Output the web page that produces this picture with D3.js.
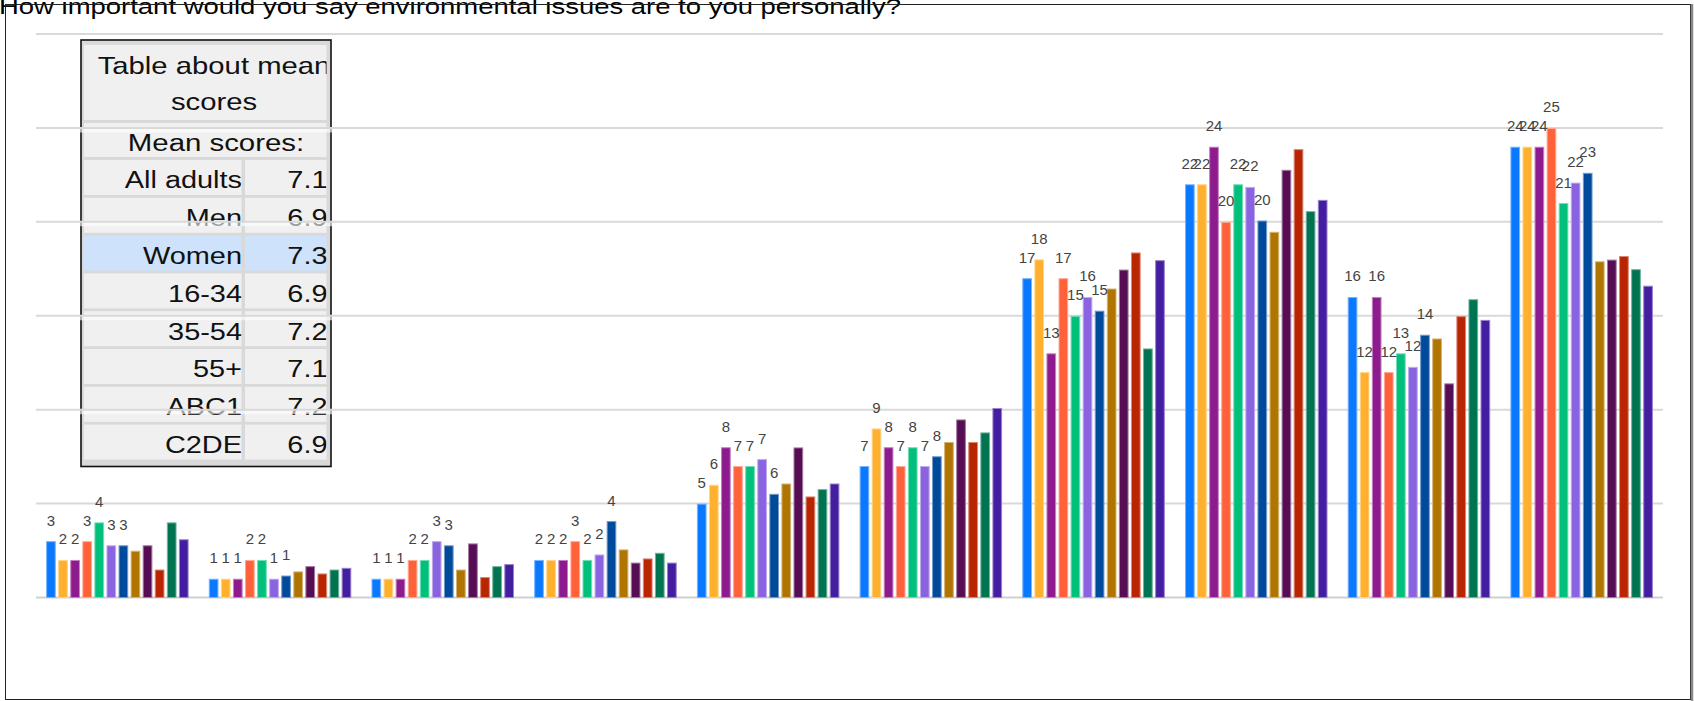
<!DOCTYPE html>
<html>
<head>
<meta charset="utf-8">
<script src="https://cdn.jsdelivr.net/npm/d3@7"></script>
<style>
  html, body { margin: 0; padding: 0; background: #fff; overflow: hidden; }
  svg { display: block; }
</style>
</head>
<body>
<svg id="chart" width="1694" height="701"></svg>
<script>
// ---- data -------------------------------------------------------------
const chartTitle = "How important would you say environmental issues are to you personally?";

// answer scale points (one cluster of bars per point)
const categories = ["1", "2", "3", "4", "5", "6", "7", "8", "9", "10"];

const seriesNames = ["All adults", "Men", "Women", "16-34", "35-54", "55+", "ABC1", "C2DE",
                     "Group 9", "Group 10", "Group 11", "Group 12"];
const seriesColors = ["#0a78ff", "#ffb02e", "#8e1b8e", "#ff613a", "#00c07b", "#8a64e0",
                      "#004a9c", "#b07400", "#560d54", "#b82500", "#007350", "#441ea0"];

// percentage of respondents per scale point
const allAdults = [3.0, 1.0, 1.0, 2.0, 5.0, 7.0, 17.0, 22.0, 16.0, 24.0];
const men       = [2.0, 1.0, 1.0, 2.0, 6.0, 9.0, 18.0, 22.0, 12.0, 24.0];
const women     = [2.0, 1.0, 1.0, 2.0, 8.0, 8.0, 13.0, 24.0, 16.0, 24.0];
const age16to34 = [3.0, 2.0, 2.0, 3.0, 7.0, 7.0, 17.0, 20.0, 12.0, 25.0];
const age35to54 = [4.0, 2.0, 2.0, 2.0, 7.0, 8.0, 15.0, 22.0, 13.0, 21.0];
const age55plus = [2.78, 1.0, 3.0, 2.29, 7.37, 7.0, 16.0, 21.86, 12.28, 22.09];
const abc1      = [2.78, 1.17, 2.78, 4.07, 5.52, 7.52, 15.27, 20.07, 13.99, 22.61];
const c2de      = [2.49, 1.39, 1.49, 2.56, 6.07, 8.28, 16.45, 19.47, 13.79, 17.90];
const group9    = [2.78, 1.67, 2.88, 1.86, 7.99, 9.48, 17.46, 22.77, 11.40, 17.99];
const group10   = [1.49, 1.28, 1.09, 2.08, 5.38, 8.28, 18.37, 23.87, 14.98, 18.18];
const group11   = [4.00, 1.49, 1.67, 2.38, 5.77, 8.79, 13.26, 20.57, 15.88, 17.48];
const group12   = [3.10, 1.58, 1.78, 1.86, 6.07, 10.09, 17.96, 21.17, 14.78, 16.60];

const seriesValues = [allAdults, men, women, age16to34, age35to54, age55plus,
                      abc1, c2de, group9, group10, group11, group12];

// only the first series carry value annotations
const annotatedSeries = seriesNames.slice(0, 7);

// value axis gridlines
const gridTicks = [0, 5, 10, 15, 20, 25, 30];

// mean score table
const tableHeading = ["Table about mean", "scores"];
const tableSubheading = "Mean scores:";
const meanGroups = ["All adults", "Men", "Women", "16-34", "35-54", "55+", "ABC1", "C2DE"];
const meanScores = [7.1, 6.9, 7.3, 6.9, 7.2, 7.1, 7.2, 6.9];
const highlightedGroup = "Women";

// ---- drawing ----------------------------------------------------------
const FONT = "'Liberation Sans', Arial, Helvetica, sans-serif";
const svg = d3.select("#chart");
const defs = svg.append("defs");

const plot = { left: 36, right: 1663, top: 34, bottom: 597.5 };

const x0 = d3.scaleBand()
  .domain(categories)
  .range([plot.left, plot.right])
  .paddingInner(0.124)
  .paddingOuter(0.062);

const x1 = d3.scaleBand()
  .domain(seriesNames)
  .range([0, x0.bandwidth()])
  .paddingInner(0.197);

const y = d3.scaleLinear()
  .domain([0, d3.max(gridTicks)])
  .range([plot.bottom, plot.top]);

// --- mean score table (sits behind the gridlines) ---
const table = svg.append("g").attr("class", "mean-table");
const tb = { x: 81, y: 40, w: 250, h: 426.5 };
table.append("rect")
  .attr("x", tb.x).attr("y", tb.y).attr("width", tb.w).attr("height", tb.h)
  .attr("fill", "#d9d9d9");

defs.append("clipPath").attr("id", "tableClip")
  .append("rect").attr("x", 84).attr("y", 42).attr("width", 242.5).attr("height", 422);

const cells = table.append("g").attr("clip-path", "url(#tableClip)");
const cellLeft = 84, cellRight = 326.5, splitLeft = 241.5, splitRight = 245;

cells.append("rect").attr("x", cellLeft).attr("y", 45).attr("width", 250).attr("height", 75)
  .attr("fill", "#f0f0f0");
cells.append("rect").attr("x", cellLeft).attr("y", 123).attr("width", 250).attr("height", 34)
  .attr("fill", "#f0f0f0");

function stretchedText(g, txt, xPos, yPos, size, anchor, sx) {
  return g.append("text")
    .attr("transform", `translate(${xPos},${yPos}) scale(${sx},1)`)
    .attr("text-anchor", anchor)
    .attr("font-family", FONT)
    .attr("font-size", size)
    .attr("fill", "#111")
    .text(txt);
}

tableHeading.forEach((line, i) => {
  stretchedText(cells, line, 214, 73.5 + i * 36.5, 24, "middle", 1.22);
});
stretchedText(cells, tableSubheading, 216, 150.5, 24.5, "middle", 1.2);

const rowTop = 160, rowStep = 37.8, rowH = 35;
meanGroups.forEach((grp, i) => {
  const top = rowTop + i * rowStep;
  const fill = grp === highlightedGroup ? "#cfe2fb" : "#f0f0f0";
  cells.append("rect").attr("x", cellLeft).attr("y", top)
    .attr("width", splitLeft - cellLeft).attr("height", rowH).attr("fill", fill);
  cells.append("rect").attr("x", splitRight).attr("y", top)
    .attr("width", 90).attr("height", rowH).attr("fill", fill);
  const lblClip = "rowclip" + i;
  defs.append("clipPath").attr("id", lblClip)
    .append("rect").attr("x", cellLeft).attr("y", top - 3)
    .attr("width", splitLeft - cellLeft).attr("height", rowH + 6);
  stretchedText(cells.append("g").attr("clip-path", `url(#${lblClip})`),
    grp, splitLeft + 0.5, top + 28.3, 24.5, "end", 1.18);
  stretchedText(cells, d3.format(".1f")(meanScores[i]), cellRight + 1, top + 28.3, 24.5, "end", 1.18);
});

table.append("rect")
  .attr("x", tb.x).attr("y", tb.y).attr("width", tb.w).attr("height", tb.h)
  .attr("fill", "none").attr("stroke", "#111").attr("stroke-width", 1.6);

// --- gridlines ---
const grid = svg.append("g").attr("class", "grid");
grid.selectAll("line.under")
  .data(gridTicks.filter(t => t > 0))
  .join("line")
  .attr("class", "under")
  .attr("x1", plot.left).attr("x2", plot.right)
  .attr("y1", d => y(d) + 2.5).attr("y2", d => y(d) + 2.5)
  .attr("stroke", "#fff").attr("stroke-opacity", 0.6).attr("stroke-width", 4);
grid.selectAll("line.tick")
  .data(gridTicks)
  .join("line")
  .attr("class", "tick")
  .attr("x1", plot.left).attr("x2", plot.right)
  .attr("y1", d => y(d)).attr("y2", d => y(d))
  .attr("stroke", d => d === 0 ? "#d0d0d0" : "#d9d9d9")
  .attr("stroke-width", 2);

// --- bars ---
const barData = [];
categories.forEach((cat, ci) => {
  seriesNames.forEach((name, si) => {
    barData.push({ cat, name, si, value: seriesValues[si][ci] });
  });
});

const lighten = c => d3.interpolateRgb(c, "#ffffff")(0.45);

svg.append("g").attr("class", "bars")
  .selectAll("rect")
  .data(barData)
  .join("rect")
  .attr("x", d => x0(d.cat) + x1(d.name) + 0.5)
  .attr("y", d => y(d.value) + 0.5)
  .attr("width", x1.bandwidth() - 1)
  .attr("height", d => y(0) - y(d.value) - 0.5)
  .attr("fill", d => seriesColors[d.si])
  .attr("stroke", d => lighten(seriesColors[d.si]))
  .attr("stroke-width", 1);

// --- value annotations ---
svg.append("g").attr("class", "annotations")
  .selectAll("text")
  .data(barData.filter(d => annotatedSeries.includes(d.name)))
  .join("text")
  .attr("x", d => x0(d.cat) + x1(d.name) + x1.bandwidth() / 2)
  .attr("y", d => y(d.value) - 15.5)
  .attr("text-anchor", "middle")
  .attr("font-family", FONT)
  .attr("font-size", 15)
  .attr("fill", "#444")
  .text(d => Math.round(d.value));

// --- title and frame ---
svg.append("text")
  .attr("transform", "translate(-1,14) scale(1.21,1)")
  .attr("font-family", FONT)
  .attr("font-size", 22.7)
  .attr("fill", "#000")
  .text(chartTitle);

svg.append("rect")
  .attr("x", 5.5).attr("y", 4.5).attr("width", 1685).attr("height", 695)
  .attr("fill", "none").attr("stroke", "#222").attr("stroke-width", 1);
svg.append("line")
  .attr("x1", 1692).attr("x2", 1692).attr("y1", 4).attr("y2", 701)
  .attr("stroke", "#888").attr("stroke-width", 2.5);
</script>
</body>
</html>
